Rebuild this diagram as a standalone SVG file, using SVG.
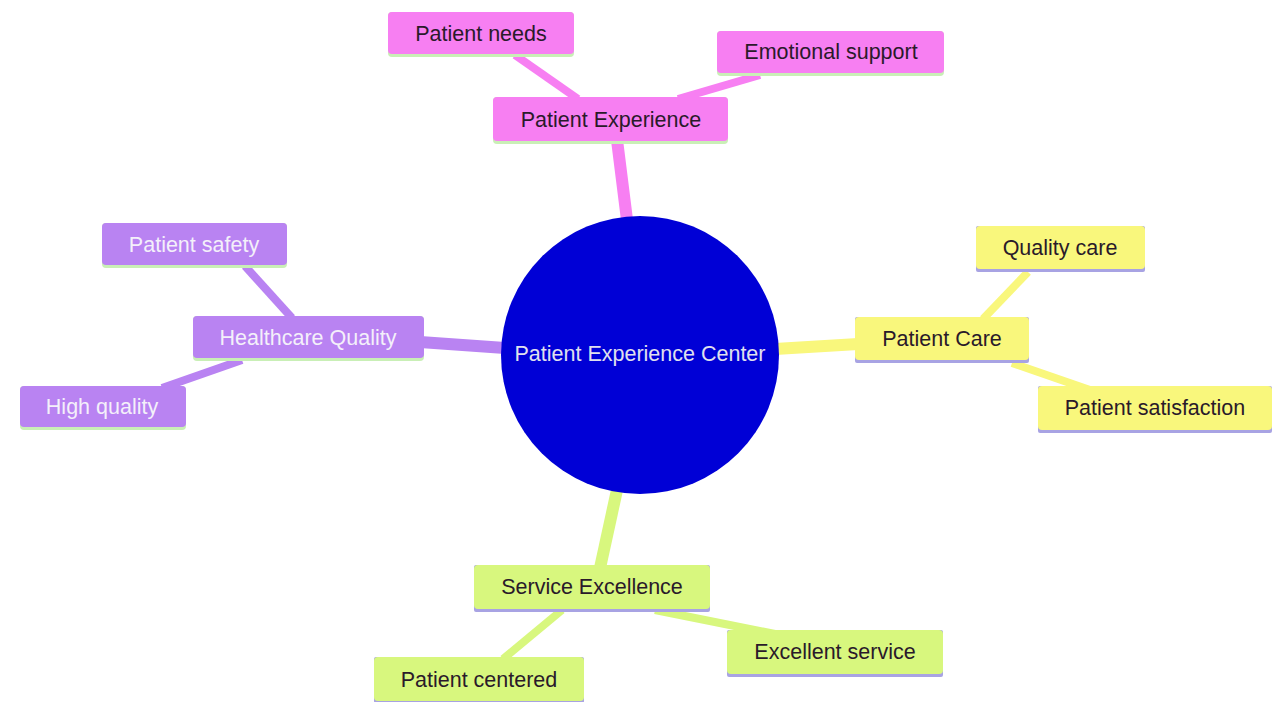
<svg xmlns="http://www.w3.org/2000/svg" width="1272" height="702" viewBox="0 0 1272 702">
<style>
text{font-family:"Liberation Sans",Arial,sans-serif;font-size:21.5px;text-anchor:middle;dominant-baseline:central}
.pink rect.b{fill:#f77ff2}
.purple rect.b{fill:#b983f2}
.yellow rect.b{fill:#f9f77c}
.green rect.b{fill:#d8f77e}
.dk{fill:#2a1a2a}
.lt{fill:#f4f0fa}
.ul-g{fill:#c9efb6}
.ul-l{fill:#a8a3e3}
#edges line{stroke-linecap:butt}
.ep{stroke:#f77ff2}
.eu{stroke:#b983f2}
.ey{stroke:#f9f77c}
.eg{stroke:#d8f77e}
</style>
<rect width="1272" height="702" fill="#ffffff"/>
<g id="edges">
<line class="ep" x1="627" y1="220" x2="617" y2="140" stroke-width="12"/>
<line class="eu" x1="505" y1="348" x2="420" y2="342" stroke-width="12"/>
<line class="ey" x1="775" y1="349" x2="858" y2="344" stroke-width="12"/>
<line class="eg" x1="617" y1="490" x2="600" y2="568" stroke-width="12"/>
<line class="ep" x1="515" y1="55" x2="578" y2="99" stroke-width="8"/>
<line class="ep" x1="760" y1="75" x2="678" y2="99" stroke-width="8"/>
<line class="eu" x1="245" y1="266" x2="292" y2="318" stroke-width="8"/>
<line class="eu" x1="242" y1="360" x2="162" y2="388" stroke-width="8"/>
<line class="ey" x1="1028" y1="272" x2="983" y2="319" stroke-width="8"/>
<line class="ey" x1="1012" y1="363" x2="1090" y2="390" stroke-width="8"/>
<line class="eg" x1="562" y1="610" x2="503" y2="659" stroke-width="8"/>
<line class="eg" x1="655" y1="610" x2="775" y2="634" stroke-width="8"/>
</g>
<g id="center">
<circle cx="640" cy="355" r="139" fill="#0000d6"/>
<text x="640" y="354" fill="#e0e0ee">Patient Experience Center</text>
</g>
<g id="patient-experience" class="pink">
<rect class="ul-g" x="493" y="97" width="235" height="47" rx="4"/>
<rect class="b" x="493" y="97" width="235" height="44" rx="4"/>
<text class="dk" x="611" y="120">Patient Experience</text>
</g>
<g id="patient-needs" class="pink">
<rect class="ul-g" x="388" y="12" width="186" height="45" rx="4"/>
<rect class="b" x="388" y="12" width="186" height="42" rx="4"/>
<text class="dk" x="481" y="34">Patient needs</text>
</g>
<g id="emotional-support" class="pink">
<rect class="ul-g" x="717" y="31" width="227" height="45" rx="4"/>
<rect class="b" x="717" y="31" width="227" height="42" rx="4"/>
<text class="dk" x="831" y="52">Emotional support</text>
</g>
<g id="healthcare-quality" class="purple">
<rect class="ul-g" x="193" y="316" width="231" height="45" rx="4"/>
<rect class="b" x="193" y="316" width="231" height="42" rx="4"/>
<text class="lt" x="308" y="338">Healthcare Quality</text>
</g>
<g id="patient-safety" class="purple">
<rect class="ul-g" x="102" y="223" width="185" height="45" rx="4"/>
<rect class="b" x="102" y="223" width="185" height="42" rx="4"/>
<text class="lt" x="194" y="245">Patient safety</text>
</g>
<g id="high-quality" class="purple">
<rect class="ul-g" x="20" y="386" width="166" height="44" rx="4"/>
<rect class="b" x="20" y="386" width="166" height="41" rx="4"/>
<text class="lt" x="102" y="407">High quality</text>
</g>
<g id="patient-care" class="yellow">
<rect class="ul-l" x="855" y="317" width="174" height="46" rx="2"/>
<rect class="b" x="855" y="317" width="174" height="43" rx="4"/>
<text class="dk" x="942" y="339">Patient Care</text>
</g>
<g id="quality-care" class="yellow">
<rect class="ul-l" x="976" y="226" width="169" height="46" rx="2"/>
<rect class="b" x="976" y="226" width="169" height="43" rx="4"/>
<text class="dk" x="1060" y="248">Quality care</text>
</g>
<g id="patient-satisfaction" class="yellow">
<rect class="ul-l" x="1038" y="386" width="234" height="47" rx="2"/>
<rect class="b" x="1038" y="386" width="234" height="44" rx="4"/>
<text class="dk" x="1155" y="408">Patient satisfaction</text>
</g>
<g id="service-excellence" class="green">
<rect class="ul-l" x="474" y="565" width="236" height="47" rx="2"/>
<rect class="b" x="474" y="565" width="236" height="44" rx="4"/>
<text class="dk" x="592" y="587">Service Excellence</text>
</g>
<g id="excellent-service" class="green">
<rect class="ul-l" x="727" y="630" width="216" height="47" rx="2"/>
<rect class="b" x="727" y="630" width="216" height="44" rx="4"/>
<text class="dk" x="835" y="652">Excellent service</text>
</g>
<g id="patient-centered" class="green">
<rect class="ul-l" x="374" y="657" width="210" height="46" rx="2"/>
<rect class="b" x="374" y="657" width="210" height="44" rx="4"/>
<text class="dk" x="479" y="680">Patient centered</text>
</g>
</svg>
